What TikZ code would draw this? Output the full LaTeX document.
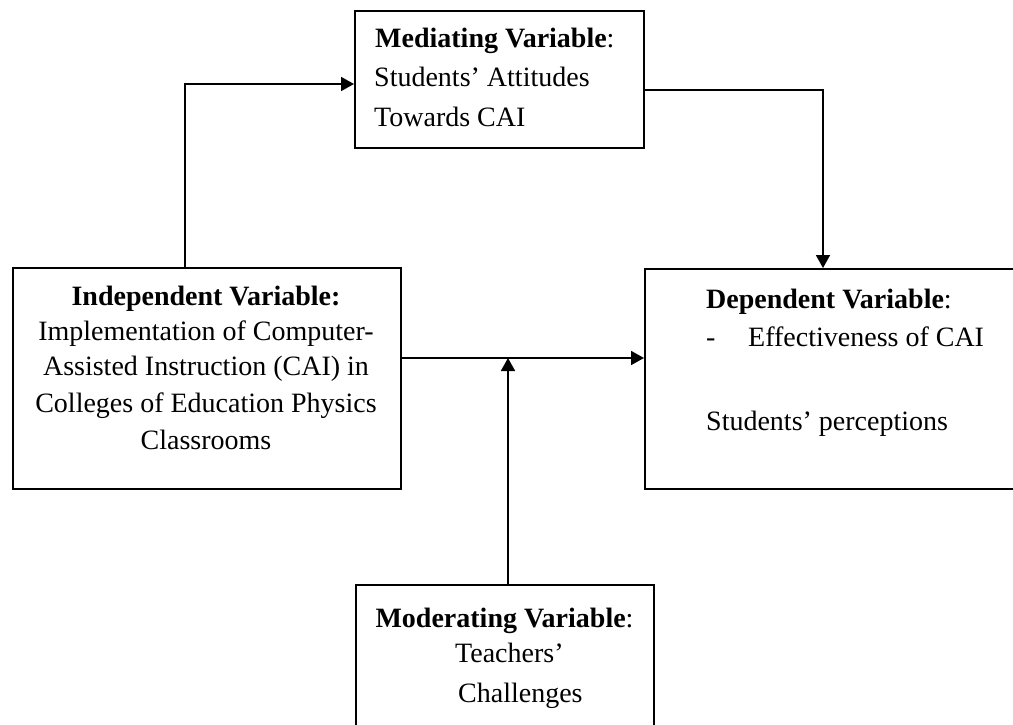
\documentclass[tikz,border=0pt]{standalone}
\usepackage{fontspec}
\setmainfont{Liberation Serif}
\usetikzlibrary{arrows.meta,calc}
\begin{document}
\begin{tikzpicture}[x=1pt,y=-1pt,
  box/.style={draw, line width=2pt, inner sep=0pt, anchor=north west},
  arr/.style={-{Triangle[length=13pt,width=14pt]}, line width=1.8pt},
  txt/.style={anchor=base west, inner sep=0pt, font=\fontsize{28}{37}\selectfont},
  ctxt/.style={anchor=base, inner sep=0pt, font=\fontsize{28}{37}\selectfont}]
\clip (0,0) rectangle (1013,725);
% boxes
\node[box, minimum width=289pt, minimum height=137pt] (med) at (354,10) {};
\node[box, minimum width=388pt, minimum height=221pt] (ind) at (12,267) {};
\node[box, minimum width=386pt, minimum height=220pt] (dep) at (644,268) {};
\node[box, minimum width=298pt, minimum height=161pt] (mod) at (355,584) {};
% texts
\node[txt] (m1) at (375,48) {\textbf{Mediating Variable}:};
\node[txt] (m2) at (374,87) {Students’ Attitudes};
\node[txt] (m3) at (374,126) {Towards CAI};
\node[ctxt] (i1) at (206,305) {\textbf{Independent Variable:}};
\node[ctxt] (i2) at (206,340) {Implementation of Computer-};
\node[ctxt] (i3) at (206,375) {Assisted Instruction (CAI) in};
\node[ctxt] (i4) at (206,412) {Colleges of Education Physics};
\node[ctxt] (i5) at (206,449) {Classrooms};
\node[txt] (d1) at (706,308) {\textbf{Dependent Variable}:};
\node[txt] (d2) at (706,346) {-};
\node[txt] (d3) at (748,346) {Effectiveness of CAI};
\node[txt] (d4) at (706,430) {Students’ perceptions};
\node[ctxt] (o1) at (504.5,627) {\textbf{Moderating Variable}:};
\node[txt] (o2) at (455,662) {Teachers’};
\node[txt] (o3) at (458,702) {Challenges};
% connectors
\draw[arr] ([xshift=173pt]ind.north west) |- ([yshift=-4.5pt]med.west);
\draw[arr] ([yshift=-10.5pt]med.east) -| ([xshift=179pt]dep.north west);
\draw[arr] ([yshift=20.5pt]ind.east) coordinate (j) -- (j -| dep.west);
\draw[arr] ([xshift=3pt]mod.north) coordinate (m) -- (m |- j);
\end{tikzpicture}
\end{document}
